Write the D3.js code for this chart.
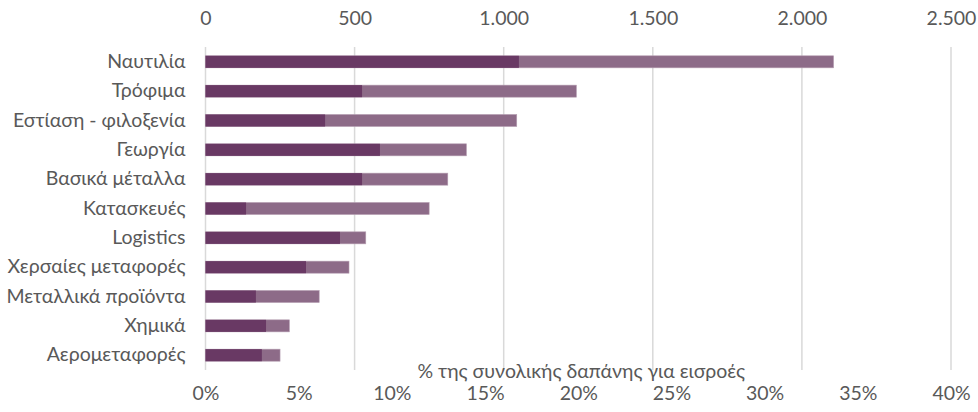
<!DOCTYPE html>
<html>
<head>
<meta charset="utf-8">
<script src="https://cdn.jsdelivr.net/npm/d3@7"></script>
<style>
  body { margin: 0; background: #fff; }
  svg text { font-family: Lato, "Open Sans", sans-serif; fill: #595959; }
</style>
</head>
<body>
<svg id="chart" width="978" height="412"></svg>
<script>
// categories, top to bottom
var categories = ['Ναυτιλία', 'Τρόφιμα', 'Εστίαση - φιλοξενία', 'Γεωργία', 'Βασικά μέταλλα',
  'Κατασκευές', 'Logistics', 'Χερσαίες μεταφορές', 'Μεταλλικά προϊόντα', 'Χημικά', 'Αερομεταφορές'];
// dark bars, read on the top axis
var darkValues = [1051, 525, 401, 585, 525, 136, 451, 337, 169, 203, 189];
// light bars, read on the bottom axis (%)
var lightValues = [33.7, 19.9, 16.7, 14.0, 13.0, 12.0, 8.6, 7.7, 6.1, 4.5, 4.0];
var topTicks = [0, 500, 1000, 1500, 2000, 2500];
var bottomTicks = [0, 5, 10, 15, 20, 25, 30, 35, 40];
var axisTitle = '% της συνολικής δαπάνης για εισροές';

var svg = d3.select('#chart');
var plotLeft = 205.5, plotRight = 951, plotTop = 47, plotBottom = 370;
var fontSize = 19.5;

var xTop = d3.scaleLinear().domain([0, 2500]).range([plotLeft, plotRight]);
var xBottom = d3.scaleLinear().domain([0, 40]).range([plotLeft, plotRight]);
var y = d3.scaleBand().domain(categories).range([plotTop, plotBottom]).paddingInner(0.59).paddingOuter(0.3);

var fmt = function(d) { return d3.format(',')(d).replace(/,/g, '.'); };

// gridlines
svg.append('g').selectAll('line')
  .data(topTicks)
  .enter().append('line')
  .attr('x1', function(d) { return xTop(d); })
  .attr('x2', function(d) { return xTop(d); })
  .attr('y1', plotTop).attr('y2', plotBottom)
  .attr('stroke', '#d9d9d9')
  .attr('stroke-width', 1.5);

// light bars (bottom axis)
svg.append('g').selectAll('rect')
  .data(lightValues)
  .enter().append('rect')
  .attr('x', xBottom(0))
  .attr('y', function(d, i) { return y(categories[i]); })
  .attr('width', function(d) { return xBottom(d) - xBottom(0); })
  .attr('height', y.bandwidth())
  .attr('fill', '#8d6b88')
  .attr('stroke', '#b59db1')
  .attr('stroke-width', 0.6);

// dark bars (top axis)
svg.append('g').selectAll('rect')
  .data(darkValues)
  .enter().append('rect')
  .attr('x', xTop(0))
  .attr('y', function(d, i) { return y(categories[i]); })
  .attr('width', function(d) { return xTop(d) - xTop(0); })
  .attr('height', y.bandwidth())
  .attr('fill', '#693964');

// top axis
var topAxis = svg.append('g')
  .attr('transform', 'translate(0,18)')
  .call(d3.axisTop(xTop).tickValues(topTicks).tickFormat(fmt).tickSize(0).tickPadding(0));
topAxis.select('.domain').remove();
topAxis.selectAll('text').attr('font-size', fontSize).attr('dy', '0.35em').attr('fill', '#595959');

// bottom axis
var bottomAxis = svg.append('g')
  .attr('transform', 'translate(0,393)')
  .call(d3.axisBottom(xBottom).tickValues(bottomTicks).tickFormat(function(d) { return d + '%'; }).tickSize(0));
bottomAxis.select('.domain').remove();
bottomAxis.selectAll('text').attr('font-size', fontSize).attr('dy', '0.35em').attr('y', 0).attr('fill', '#595959');

// category labels
var yAxis = svg.append('g')
  .attr('transform', 'translate(' + (plotLeft - 20) + ',0)')
  .call(d3.axisLeft(y).tickSize(0).tickPadding(0));
yAxis.select('.domain').remove();
yAxis.selectAll('text').attr('font-size', fontSize).attr('fill', '#595959');

// bottom axis title
svg.append('text')
  .attr('x', (plotLeft + plotRight) / 2 + 3)
  .attr('y', 371)
  .attr('dy', '0.35em')
  .attr('text-anchor', 'middle')
  .attr('font-size', fontSize)
  .text(axisTitle);
</script>
</body>
</html>
